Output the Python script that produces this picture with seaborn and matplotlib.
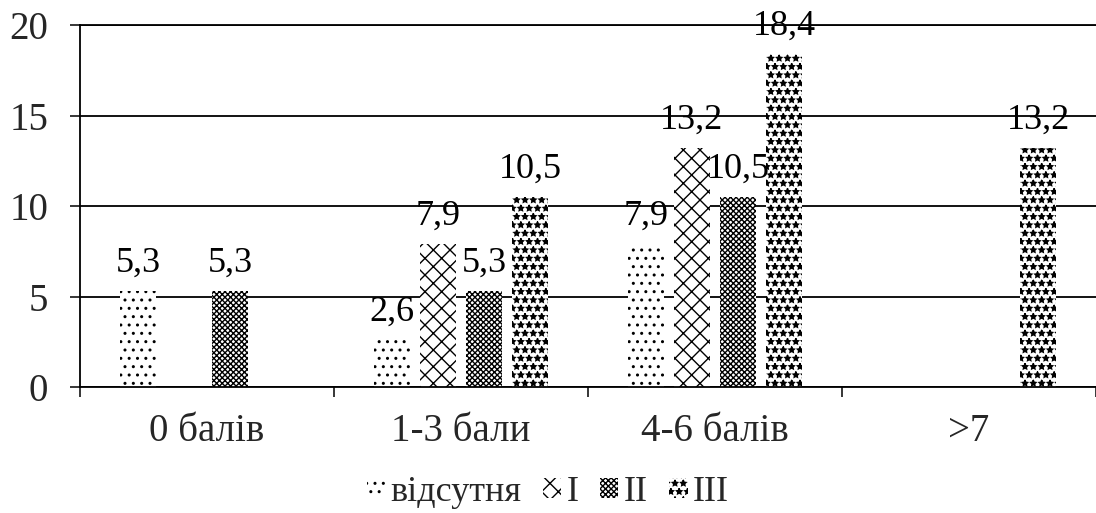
import matplotlib
matplotlib.use("Agg")
import matplotlib.pyplot as plt
from matplotlib.patches import Patch
from matplotlib.ticker import FixedLocator
import numpy as np
import pandas as pd
import seaborn as sns

# Score groups and series values (%)
categories = ["0 балів", "1-3 бали", "4-6 балів", ">7"]
series = ["відсутня", "I", "II", "III"]
val_none = [5.3, 2.6, 7.9, np.nan]
val_I = [np.nan, 7.9, 13.2, np.nan]
val_II = [5.3, 5.3, 10.5, np.nan]
val_III = [np.nan, 10.5, 18.4, 13.2]
y_ticks = [0, 5, 10, 15, 20]

hatches = {"відсутня": "..", "I": "xx", "II": "xxxxxx", "III": "**"}

df = pd.DataFrame({
    "cat": categories * 4,
    "series": np.repeat(series, len(categories)),
    "val": val_none + val_I + val_II + val_III,
})

sns.set_theme(style="white")
plt.rcParams["font.family"] = ["Liberation Serif", "DejaVu Serif"]
plt.rcParams["hatch.color"] = "black"
plt.rcParams["hatch.linewidth"] = 1.0

FS_TICK = 28
FS_LABEL = 26
FS_LEGEND = 26

fig = plt.figure(figsize=(10.96, 5.13), dpi=100)
ax = fig.add_axes([0.073, 0.2456, 0.927, 0.7056])

sns.barplot(data=df, x="cat", y="val", hue="series", order=categories,
            hue_order=series, width=0.725, gap=0.22, palette=["white"] * 4,
            edgecolor="black", linewidth=0, legend=False, ax=ax)

for name, cont in zip(series, ax.containers):
    for bar in cont:
        bar.set_hatch(hatches[name])
        bar.set_facecolor("white")
        bar.set_edgecolor("black")
        bar.set_linewidth(0)
    labels = [f"{v:.1f}".replace(".", ",") for v in cont.datavalues]
    ax.bar_label(cont, labels=labels, padding=8, fontsize=FS_LABEL, color="black")

ax.set_ylim(0, 20)
ax.set_xlim(-0.5, len(categories) - 0.5)
ax.set_yticks(y_ticks)
ax.yaxis.grid(True, color="black", linewidth=1.3)
ax.set_axisbelow(True)
ax.set_xlabel("")
ax.set_ylabel("")

ax.spines["right"].set_visible(False)
for side in ["left", "bottom", "top"]:
    ax.spines[side].set_color("black")
    ax.spines[side].set_linewidth(1.3)

ax.tick_params(axis="y", which="major", direction="out", length=7, width=1.1,
               color="black", pad=16, labelsize=FS_TICK, left=True)
ax.tick_params(axis="x", which="major", length=0, pad=19, labelsize=FS_TICK)
ax.xaxis.set_minor_locator(FixedLocator(np.arange(-0.5, len(categories), 1.0)))
ax.tick_params(axis="x", which="minor", direction="out", length=7, width=1.1,
               color="black", bottom=True)

handles = [Patch(facecolor="white", edgecolor="black", linewidth=0,
                 hatch=hatches[name]) for name in series]
fig.legend(handles, series, loc="center", bbox_to_anchor=(0.5, 0.04), ncol=4,
           frameon=False, fontsize=FS_LEGEND, handlelength=0.5, handleheight=0.5,
           handletextpad=0.15, columnspacing=0.6)

fig.savefig("out.png", dpi=100)
